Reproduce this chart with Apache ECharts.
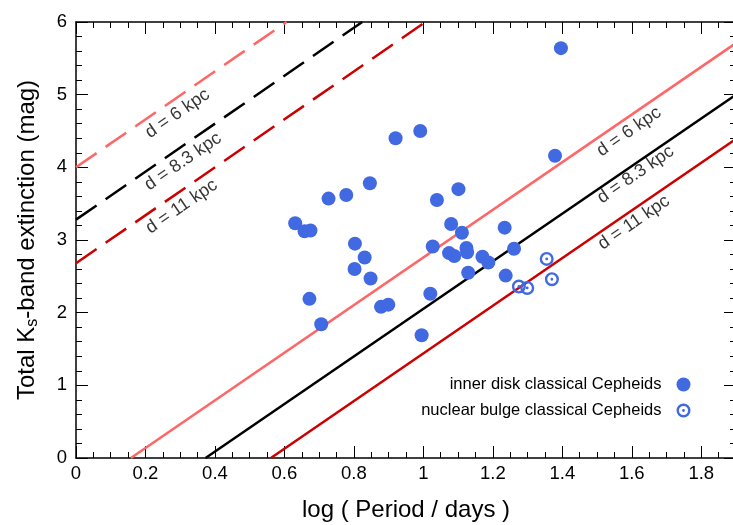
<!DOCTYPE html>
<html><head><meta charset="utf-8">
<script src="https://cdn.jsdelivr.net/npm/echarts@6/dist/echarts.min.js"></script>
<style>html,body{margin:0;padding:0;background:#fff}#c{width:733px;height:525px}</style>
</head><body><div id="c"></div>
<script>
// ---- data ----
const diskLogP = [0.920,0.991,1.379,0.846,0.778,0.727,1.039,1.101,0.631,0.658,0.675,1.080,1.111,1.234,0.803,1.027,0.831,1.074,1.089,1.124,1.126,1.261,1.170,1.187,0.802,0.848,1.129,1.237,0.672,1.020,0.878,0.899,0.706,0.995,1.396];
const diskAk   = [4.40,4.50,4.16,3.78,3.62,3.57,3.55,3.70,3.23,3.12,3.13,3.22,3.10,3.17,2.95,2.91,2.76,2.82,2.78,2.89,2.83,2.88,2.77,2.69,2.60,2.47,2.55,2.51,2.19,2.26,2.08,2.11,1.84,1.69,5.64];
const bulgeLogP = [1.275,1.299,1.355,1.370];
const bulgeAk   = [2.36,2.34,2.74,2.46];

const lineNames = ['d = 6 kpc','d = 8.3 kpc','d = 11 kpc'];
const lineColors = ['#ff6666','#000000','#cc0000'];
const solidStart = [[0.158,0],[0.373,0],[0.561,0]];
const solidEnd   = [[1.9,5.71],[1.9,5.00],[1.9,4.39]];
const dashedStart = [[0,4.00],[0,3.28],[0,2.68]];
const dashedEnd   = [[0.606,6],[0.824,6],[1.006,6]];
const solidLabelPos  = [[1.592,4.49],[1.611,3.90],[1.606,3.24]];
const dashedLabelPos = [[0.292,4.74],[0.308,4.08],[0.304,3.46]];

const xMin = 0, xMax = 1.9, xMajor = 0.2, xMinor = 0.05;
const yMin = 0, yMax = 6, yMajor = 1;

const FONT = 'Liberation Sans, Arial, Helvetica, sans-serif';
const ringPath = 'path://M0,-10A10,10,0,1,1,0,10A10,10,0,1,1,0,-10ZM0,-6.6A6.6,6.6,0,1,0,0,6.6A6.6,6.6,0,1,0,0,-6.6ZM0,-2A2,2,0,1,1,0,2A2,2,0,1,1,0,-2Z';
const BLUE = '#4169e1';

function xAx(pos, interval, len, labels) {
  return {
    type:'value', min:xMin, max:xMax, interval:interval, position:pos,
    axisLine:{show:labels, onZero:false, lineStyle:{color:'#000', width:1.5}},
    axisTick:{show:true, inside:true, length:len, lineStyle:{color:'#000', width:1}},
    axisLabel:{show:labels && pos==='bottom', fontSize:18.5, color:'#000', margin:6, showMaxLabel:false, fontFamily:FONT},
    splitLine:{show:false}
  };
}
function yAx(pos, labels) {
  return {
    type:'value', min:yMin, max:yMax, interval:yMajor, position:pos,
    axisLine:{show:true, onZero:false, lineStyle:{color:'#000', width:1.5}},
    axisTick:{show:true, inside:true, length:12, lineStyle:{color:'#000', width:1}},
    minorTick:{show:true, splitNumber:5, length:6, lineStyle:{color:'#000', width:1}},
    axisLabel:{show:labels, fontSize:18.5, color:'#000', margin:9, fontFamily:FONT},
    splitLine:{show:false}, minorSplitLine:{show:false}
  };
}

const xBottom = xAx('bottom', xMajor, 12, true);
xBottom.name = 'log ( Period / days )';
xBottom.nameLocation = 'middle';
xBottom.nameGap = 40;
xBottom.nameTextStyle = {fontSize:24, color:'#000', fontFamily:FONT};
const xTop = xAx('top', xMajor, 12, true);
const yLeft = yAx('left', true);
yLeft.name = 'Total K{sub|s}-band extinction (mag)';
yLeft.nameLocation = 'middle';
yLeft.nameRotate = 90;
yLeft.nameGap = 35;
yLeft.nameTextStyle = {fontSize:24, color:'#000', fontFamily:FONT, lineHeight:28,
  rich:{sub:{fontSize:16, color:'#000', fontFamily:FONT, lineHeight:14, verticalAlign:'bottom'}}};
const yRight = yAx('right', false);

const series = [];
for (let i = 0; i < 3; i++) {
  series.push({type:'line', name:'s'+i, data:[solidStart[i], solidEnd[i]], showSymbol:false, symbol:'none',
    lineStyle:{color:lineColors[i], width:2.5}, silent:true, z:2});
  series.push({type:'line', name:'d'+i, data:[dashedStart[i], dashedEnd[i]], showSymbol:false, symbol:'none',
    lineStyle:{color:lineColors[i], width:2.5, type:[25,11]}, silent:true, z:2});
}
const labelData = [];
for (let i = 0; i < 3; i++) {
  labelData.push({value:solidLabelPos[i], name:lineNames[i]});
  labelData.push({value:dashedLabelPos[i], name:lineNames[i]});
}
series.push({type:'scatter', name:'labels', data:labelData, symbolSize:1, itemStyle:{color:'rgba(0,0,0,0)'},
  silent:true, z:3,
  label:{show:true, position:'inside', formatter:'{b}', rotate:34.5, fontSize:18, color:'#000', fontFamily:FONT}});
series.push({type:'scatter', name:'inner disk classical Cepheids', symbol:'circle', symbolSize:14,
  data:diskLogP.map((x,i)=>[x, diskAk[i]]), itemStyle:{color:BLUE, opacity:1}, z:5});
series.push({type:'scatter', name:'nuclear bulge classical Cepheids', symbol:ringPath, symbolSize:14, symbolKeepAspect:true,
  data:bulgeLogP.map((x,i)=>[x, bulgeAk[i]]), itemStyle:{color:BLUE, opacity:1}, z:5});

const chart = echarts.init(document.getElementById('c'), null, {renderer:'canvas'});
chart.setOption({
  animation:false,
  backgroundColor:'#fff',
  textStyle:{fontFamily:FONT},
  grid:{left:76, top:22, width:660, height:436, containLabel:false, outerBoundsMode:'none'},
  xAxis:[xBottom, xAx('bottom', xMinor, 6, false), xTop, xAx('top', xMinor, 6, false)],
  yAxis:[yLeft, yRight],
  legend:{
    data:['inner disk classical Cepheids','nuclear bulge classical Cepheids'],
    orient:'vertical', align:'right', right:37.5, top:371,
    itemWidth:34, itemHeight:14, itemGap:9,
    textStyle:{fontSize:16.5, color:'#000', fontFamily:FONT},
    selectedMode:false
  },
  series:series
});
</script></body></html>
